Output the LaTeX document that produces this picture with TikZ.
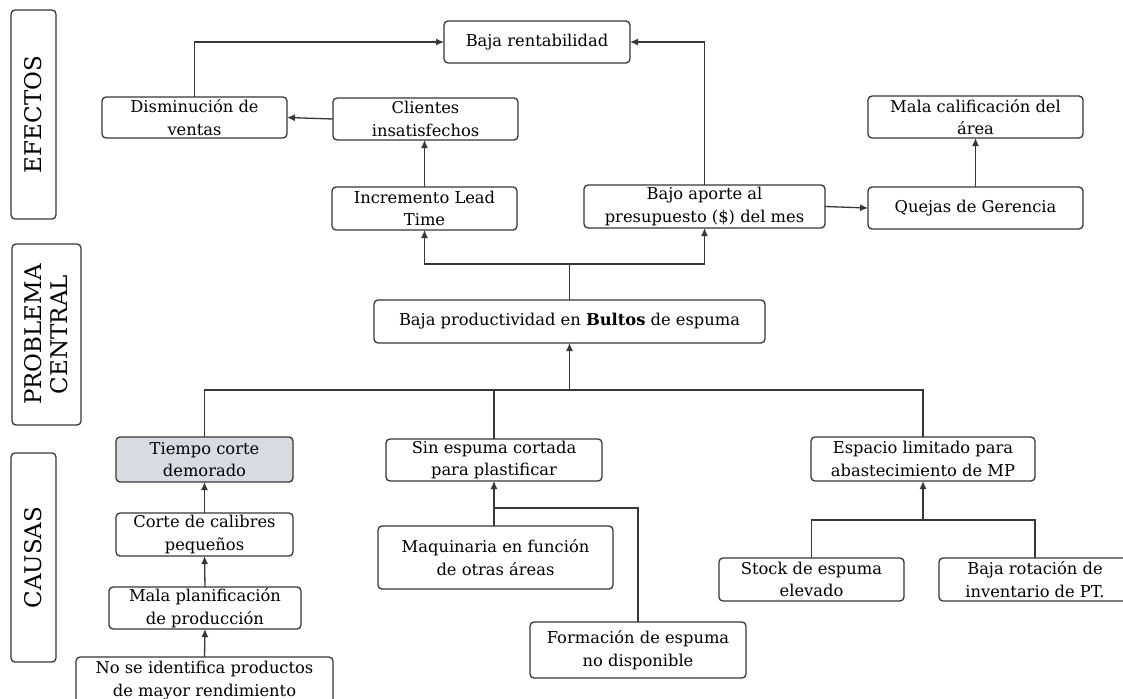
\documentclass[tikz,border=0pt]{standalone}
\usepackage{fontspec}
\setmainfont{DejaVu Serif}
\usetikzlibrary{arrows.meta}

\definecolor{linec}{RGB}{55,55,55}
\definecolor{hilite}{RGB}{217,219,226}

\newcommand\boxfont{\fontsize{16.3}{22.5}\selectfont}
\newcommand\lblfont{\fontsize{23}{26}\selectfont}

% \cbox[options]{name}{x1}{y1}{x2}{y2}{text}: a rounded box spanning the given corners
\newcommand\cbox[7][]{%
  \node[box,#1,minimum width={(#5)-(#3)},minimum height={(#6)-(#4)}]
    (#2) at ({((#3)+(#5))/2},{((#4)+(#6))/2}) {#7};}

\begin{document}
\begin{tikzpicture}[x=1pt,y=-1pt,
  box/.style={draw=linec, line width=1.3pt, rounded corners=4pt, fill=white,
              align=center, inner sep=0pt, outer sep=0pt, font=\boxfont},
  sidelbl/.style={box, font=\lblfont},
  link/.style={draw=linec, line width=1.3pt},
  arr/.style={link, -{Latex[length=8pt,width=7pt]}}]

\useasboundingbox[fill=white] (0,0) rectangle (1123,698);

% section labels
\node[sidelbl, rotate=90, minimum width=209, minimum height=45] (lefe) at (33.5,114.5) {EFECTOS};
\node[sidelbl, rotate=90, minimum width=181, minimum height=69] (lpro) at (46.5,334.5) {PROBLEMA\\CENTRAL};
\node[sidelbl, rotate=90, minimum width=209, minimum height=45] (lcau) at (33.5,557.5) {CAUSAS};

% effects
\cbox{rent}{444}{21}{630}{63}{Baja rentabilidad}
\cbox{dism}{102}{97}{287}{138}{Disminución de\\ventas}
\cbox{cli}{333}{98}{518}{140}{Clientes\\insatisfechos}
\cbox{inc}{332}{187}{517}{230}{Incremento Lead\\Time}
\cbox{aporte}{584}{185}{825}{228}{Bajo aporte al\\presupuesto (\$) del mes}
\cbox{quejas}{868}{187}{1083}{229}{Quejas de Gerencia}
\cbox{malacal}{868}{96}{1083}{138}{Mala calificación del\\área}

% central problem
\cbox{prod}{374}{300}{765}{343}{Baja productividad en \textbf{Bultos} de espuma}

% causes
\cbox[fill=hilite]{tiempo}{116}{437}{293}{482}{Tiempo corte\\demorado}
\cbox{corte}{116}{513}{293}{556}{Corte de calibres\\pequeños}
\cbox{malap}{109}{587}{301}{629}{Mala planificación\\de producción}
\cbox{noid}{76}{657}{333}{704}{No se identifica productos\\de mayor rendimiento}

\cbox{sin}{386}{439}{602}{481}{Sin espuma cortada\\para plastificar}
\cbox{maq}{378}{526}{613}{589}{Maquinaria en función\\de otras áreas}
\cbox{form}{530}{622}{746}{678}{Formación de espuma\\no disponible}

\cbox{espacio}{811}{437}{1035}{481}{Espacio limitado para\\abastecimiento de MP}
\cbox{stock}{719}{558}{904}{601}{Stock de espuma\\elevado}
\cbox{rot}{939}{558}{1131}{601}{Baja rotación de\\inventario de PT.}

% junction points
\coordinate (up) at (569.5,264);
\coordinate (dn) at (569.5,390);
\coordinate (mj) at (494,508);
\coordinate (rj) at (923,520);

% effect links
\draw[arr] (dism.north) |- (rent.west);
\draw[arr] (aporte.north) |- (rent.east);
\draw[arr] (cli.west) -- (dism.east);
\draw[arr] (inc.north) -- (inc.north |- cli.south);
\draw[arr] (aporte.east) -- (quejas.west);
\draw[arr] (quejas.north) -- (malacal.south);

% central problem to effects
\draw[link] (prod.north) -- (up);
\draw[arr] (up) -| (inc.south);
\draw[arr] (up) -| (aporte.south);

% causes to central problem
\draw[arr] (dn) -- (prod.south);
\draw[link] (tiempo.north) |- (dn) -| (espacio.north);
\draw[link] (sin.north) -- (sin.north |- dn);

% left cause chain
\draw[arr] (corte.north) -- (tiempo.south);
\draw[arr] (malap.north) -- (corte.south);
\draw[arr] (noid.north) -- (malap.south);

% middle cause branch
\draw[arr] (sin.south |- maq.north) -- (sin.south);
\draw[link] (form.north) |- (mj);

% right cause branch
\draw[arr] (rj) -- (espacio.south);
\draw[link] (stock.north) |- (rj) -| (rot.north);

\end{tikzpicture}
\end{document}
